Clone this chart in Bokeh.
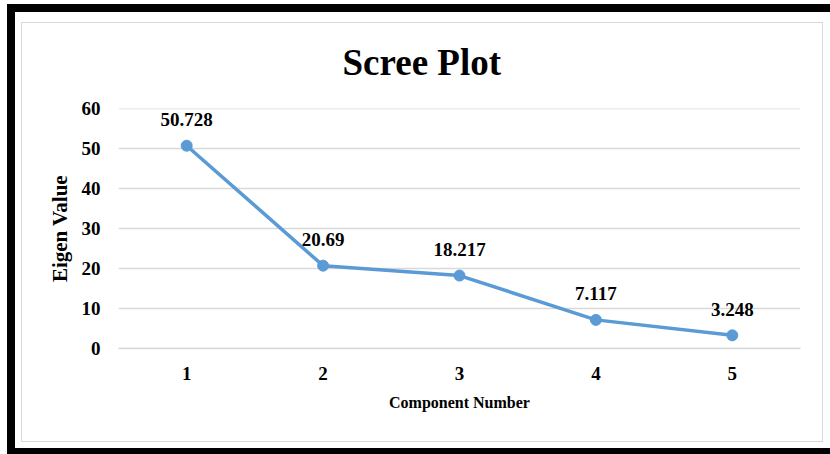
from bokeh.plotting import figure
from bokeh.models import ColumnDataSource, FixedTicker
from bokeh.core.properties import value
from bokeh.embed import file_html
from bokeh.resources import INLINE

components = [1, 2, 3, 4, 5]
eigen_values = [50.728, 20.69, 18.217, 7.117, 3.248]
value_labels = ["50.728", "20.69", "18.217", "7.117", "3.248"]
y_ticks = [0, 10, 20, 30, 40, 50, 60]

FONT = "Liberation Serif"
BLUE = "#5B9BD5"
GRID = "#D9D9D9"

src = ColumnDataSource(dict(x=components, y=eigen_values, lab=value_labels))

p = figure(width=815, height=436, output_backend="svg", toolbar_location=None,
           x_range=(0.5, 5.5), y_range=(-0.05, 60.05),
           min_border_left=103, min_border_right=30, min_border_top=96, min_border_bottom=100,
           margin=(12, 0, 0, 15))

# black frame (top, left, bottom) drawn as shadows around the chart element
p.styles = {
    "box-shadow": "-8px 0px 0px 0px black, 0px -8px 0px 0px black, -8px -8px 0px 0px black, "
                  "0px 6px 0px 0px black, -8px 6px 0px 0px black",
}
# thin light-grey border of the chart area, drawn above the canvas
p.stylesheets = [
    ":host { position: relative; }"
    ":host::after { content: ''; position: absolute; left: 6px; top: 10px; right: 7px; bottom: 6px;"
    " border: 1.5px solid #D9D9D9; box-sizing: border-box; pointer-events: none; z-index: 100; }"
]

p.border_fill_color = "white"
p.background_fill_color = "white"
p.outline_line_color = None

p.title.text = "Scree Plot"
p.title.text_font = FONT
p.title.text_font_size = "37px"
p.title.text_font_style = "bold"
p.title.align = "left"
p.title.offset = 224
p.title.text_color = "black"
p.title.standoff = 52

p.line("x", "y", source=src, line_color=BLUE, line_width=3.5)
p.scatter("x", "y", source=src, size=11, fill_color=BLUE, line_color=BLUE)
p.text("x", "y", text="lab", source=src, text_font=value(FONT), text_font_style="bold",
       text_font_size="19px", text_align="center", text_baseline="alphabetic",
       y_offset=-26, text_color="black")

p.xaxis.ticker = FixedTicker(ticks=components)
p.yaxis.ticker = FixedTicker(ticks=y_ticks)
for ax in (p.xaxis[0], p.yaxis[0]):
    ax.major_tick_line_color = None
    ax.minor_tick_line_color = None
    ax.major_tick_out = 0
    ax.major_tick_in = 0
    ax.axis_line_color = None
    ax.major_label_text_font = FONT
    ax.major_label_text_font_style = "bold"
    ax.major_label_text_font_size = "19px"
    ax.major_label_text_color = "black"
    ax.axis_label_text_font = FONT
    ax.axis_label_text_font_style = "bold"
    ax.axis_label_text_color = "black"
p.xaxis.axis_line_color = GRID
p.xaxis.axis_line_width = 1.5
p.xaxis.axis_label = "Component Number"
p.xaxis.axis_label_text_font_size = "16px"
p.yaxis.axis_label = "Eigen Value"
p.yaxis.axis_label_text_font_size = "21px"
p.xaxis.major_label_standoff = 18
p.yaxis.major_label_standoff = 18
p.xaxis.axis_label_standoff = 11
p.yaxis.axis_label_standoff = 7

p.xgrid.grid_line_color = None
p.ygrid.grid_line_color = GRID
p.ygrid.grid_line_width = 1.5

open("out.html", "w").write(file_html(p, INLINE))
